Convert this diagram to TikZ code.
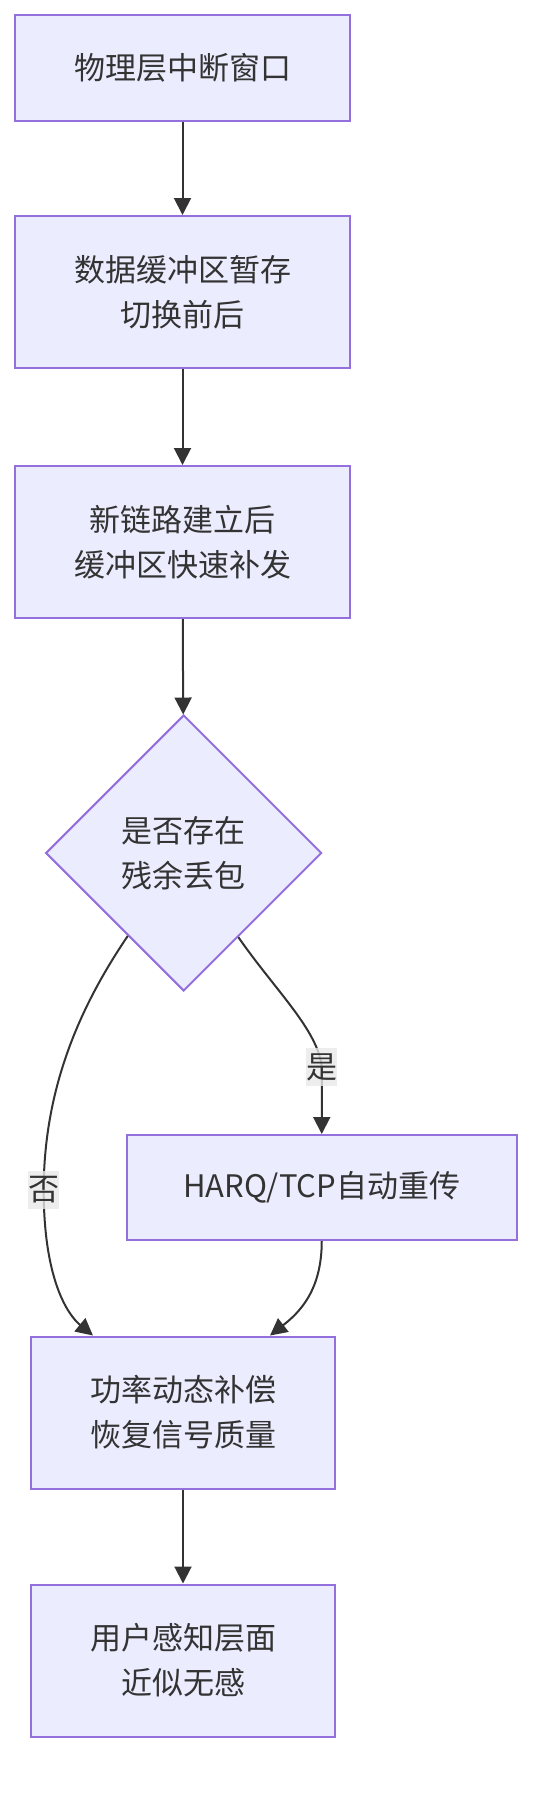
\documentclass[tikz,border=0pt]{standalone}
\usepackage{fontspec}
\setmainfont{Noto Sans CJK SC}
\usetikzlibrary{arrows.meta}
\usetikzlibrary{shapes.geometric}
\definecolor{boxfill}{HTML}{ECECFF}
\definecolor{boxline}{HTML}{9370DB}
\definecolor{edgeline}{HTML}{333333}
\definecolor{labelfill}{HTML}{E8E8E8}

\begin{document}
\begin{tikzpicture}[x=1pt, y=-1pt,
		every node/.style={font=\fontsize{31}{45}\selectfont, text=edgeline},
		procbox/.style={draw=boxline, fill=boxfill, line width=2pt, align=center, minimum width=335pt, minimum height=152pt, inner sep=0pt},
		decbox/.style={diamond, draw=boxline, fill=boxfill, line width=2pt, align=center, minimum size=276pt, inner sep=0pt},
		edgelabel/.style={fill=labelfill, fill opacity=0.8, text opacity=1, inner sep=0pt, minimum width=30pt, minimum height=38pt},
		flow/.style={draw=edgeline, line width=2pt, -{Triangle[length=17pt, width=17pt]}}]
		
		\useasboundingbox (0,0) rectangle (548,1804);
		
		\node[procbox, minimum height=105.5pt] (outage) at (182.5,67.75) {物理层中断窗口};
		\node[procbox] (buffer) at (182.5,292) {数据缓冲区暂存\\切换前后};
		\node[procbox] (resend) at (182.5,542) {新链路建立后\\缓冲区快速补发};
		\node[decbox] (check) at (183.7,853) {是否存在\\残余丢包};
		\node[procbox, minimum width=390.5pt, minimum height=105pt] (harq) at (321.75,1187.5) {HARQ/TCP自动重传};
		\node[procbox, minimum width=304pt] (recover) at (183,1412.5) {功率动态补偿\\恢复信号质量};
		\node[procbox, minimum width=304pt] (user) at (183,1660.5) {用户感知层面\\近似无感};
		
		\draw[flow] (outage) -- (buffer);
		\draw[flow] (buffer) -- (resend);
		\draw[flow] (resend) -- (check);
		\draw[flow] (check.236) .. controls (86.5,997) and (43.7,1080) .. (43.7,1190)
			.. controls (43.7,1280) and (68,1315) .. ([xshift=-90pt]recover.north);
		\draw[flow] (check.303) .. controls (275,990) and (318,1030) .. (321.75,1067) -- (harq.north);
		\draw[flow] (harq.south) .. controls (321.75,1290) and (300,1312) .. ([xshift=87pt]recover.north);
		\draw[flow] (recover) -- (user);
		
		\node[edgelabel] (no) at (43.7,1190) {否};
		\node[edgelabel] (yes) at (321.75,1067) {是};
		
	\end{tikzpicture}
\end{document}
